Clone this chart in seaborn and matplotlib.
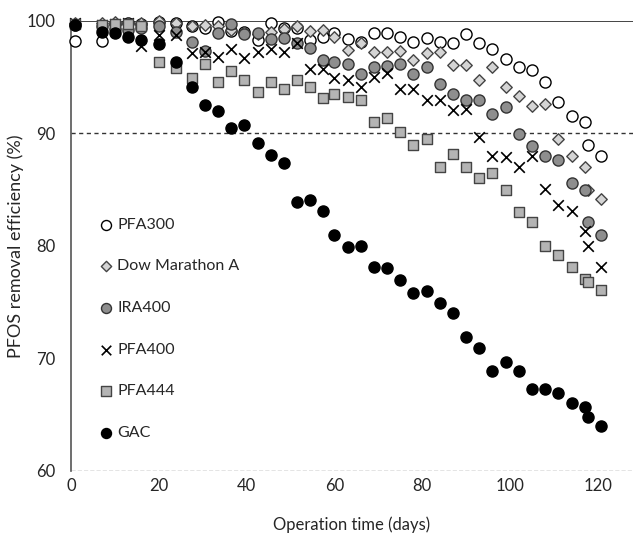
import numpy as np
import pandas as pd
import seaborn as sns
import matplotlib.pyplot as plt

sns.set_style('white')
plt.rcParams['font.family'] = ['Lato', 'DejaVu Sans']

# sampling days (operation time)
days = [1, 7, 10, 13, 16, 20, 24, 27.5, 30.5, 33.5, 36.5, 39.5, 42.5, 45.5,
        48.5, 51.5, 54.5, 57.5, 60, 63, 66, 69, 72, 75, 78, 81, 84, 87, 90,
        93, 96, 99, 102, 105, 108, 111, 114, 117, 117.7, 120.7]

pfa300 = [98.2, 98.2, 99.7, 99.8, 99.7, 99.9, 99.8, 99.5, 99.4, 99.9, 99.1, 99.0,
          98.3, 99.8, 99.4, 99.4, 98.3, 98.6, 98.9, 98.4, 98.1, 98.9, 98.9, 98.6,
          98.1, 98.5, 98.1, 98.0, 98.8, 98.0, 97.5, 96.6, 95.9, 95.6, 94.6, 92.8,
          91.5, 91.0, 89.0, 88.0]
dow = [99.8, 99.8, 99.9, 99.8, 99.8, 100.0, 99.8, 99.5, 99.6, 99.5, 99.2, 99.0,
       98.8, 99.0, 99.3, 99.5, 99.1, 99.2, 98.6, 97.4, 98.0, 97.2, 97.2, 97.3,
       96.5, 97.1, 97.2, 96.1, 96.1, 94.7, 95.9, 94.1, 93.3, 92.4, 92.6, 89.5,
       88.0, 87.0, 85.0, 84.2]
ira400 = [99.6, 99.5, 99.3, 99.2, 99.4, 99.5, 99.0, 98.1, 97.3, 98.9, 99.7, 98.8,
          98.9, 98.4, 98.5, 98.0, 97.6, 96.5, 96.3, 96.2, 95.3, 95.9, 96.0, 96.2,
          95.3, 95.9, 94.4, 93.5, 93.0, 93.0, 91.7, 92.3, 89.9, 88.9, 88.0, 87.6,
          85.6, 85.0, 82.1, 81.0]
pfa400 = [99.8, 99.6, 99.7, 99.8, 97.8, 98.7, 98.7, 97.1, 97.2, 96.8, 97.5, 96.7,
          97.2, 97.5, 97.2, 98.0, 95.7, 95.7, 94.9, 94.7, 94.1, 95.0, 95.4, 93.9,
          93.9, 93.0, 93.0, 92.1, 92.2, 89.7, 88.0, 87.9, 87.0, 88.0, 85.1, 83.6,
          83.1, 81.3, 80.0, 78.1]
pfa444 = [99.7, 99.6, 99.7, 99.7, 99.5, 96.3, 95.8, 94.9, 96.2, 94.6, 95.5, 94.7,
          93.7, 94.6, 93.9, 94.7, 94.1, 93.1, 93.5, 93.2, 93.0, 91.0, 91.4, 90.1,
          89.0, 89.5, 87.0, 88.2, 87.0, 86.0, 86.5, 85.0, 83.0, 82.1, 80.0, 79.2,
          78.1, 77.1, 76.8, 76.1]
gac = [99.6, 99.0, 98.9, 98.6, 98.3, 97.9, 96.3, 94.1, 92.5, 92.0, 90.5, 90.7,
       89.1, 88.1, 87.4, 83.9, 84.1, 83.1, 81.0, 79.9, 80.0, 78.1, 78.0, 77.0,
       75.8, 76.0, 74.9, 74.0, 71.9, 70.9, 68.9, 69.7, 68.9, 67.3, 67.3, 66.9,
       66.0, 65.7, 64.8, 64.0]

series = {
    'PFA300': pfa300,
    'Dow Marathon A': dow,
    'IRA400': ira400,
    'PFA400': pfa400,
    'PFA444': pfa444,
    'GAC': gac,
}
df = pd.concat([pd.DataFrame({'day': days, 'eff': v, 'resin': k})
                for k, v in series.items()], ignore_index=True)

# marker, size, face, edge
styles = {
    'PFA300': ('o', 64, 'white', 'black'),
    'Dow Marathon A': ('D', 34, '#d4d4d4', '#444444'),
    'IRA400': ('o', 64, '#8e8e8e', '#333333'),
    'PFA400': ('x', 58, 'black', 'black'),
    'PFA444': ('s', 62, '#b4b4b4', '#444444'),
    'GAC': ('o', 64, 'black', 'black'),
}

fig = plt.figure(figsize=(6.33, 5.34), dpi=100)
ax = fig.add_axes([0.112, 0.118, 0.888, 0.843])

for name in series:
    m, s, fc, ec = styles[name]
    sub = df[df['resin'] == name]
    if m == 'x':
        sns.scatterplot(data=sub, x='day', y='eff', marker=m, s=s, color=fc,
                        linewidth=1.2, label=name, ax=ax, clip_on=False, zorder=3)
    else:
        sns.scatterplot(data=sub, x='day', y='eff', marker=m, s=s, color=fc,
                        edgecolor=ec, linewidth=1.0, label=name, ax=ax,
                        clip_on=False, zorder=3)

ax.set_xlim(0, 128)
ax.set_ylim(60, 100)
ax.set_xticks(range(0, 121, 20))
ax.set_yticks(range(60, 101, 10))
for sp in ['right', 'bottom', 'top']:
    ax.spines[sp].set_visible(False)
ax.spines['left'].set_color('#555555')
ax.spines['left'].set_linewidth(1.2)
ax.axhline(100, color='#444444', lw=1.4, zorder=1)
ax.axhline(90, color='#333333', lw=1.0, ls=(0, (3, 2.5)), zorder=1)
ax.axhline(60, color='#777777', lw=1.0, ls=(0, (3, 1.5)), zorder=1)
ax.tick_params(axis='both', labelsize=12, length=0)
ax.tick_params(axis='x', pad=5)
ax.tick_params(axis='y', pad=11)

ax.set_xlabel('Operation time (days)', fontsize=12, labelpad=16)
ax.set_ylabel('PFOS removal efficiency (%)', fontsize=13, labelpad=2)

ax.legend(loc='upper left', bbox_to_anchor=(0.043, 0.577), frameon=False,
          fontsize=11.5, labelspacing=1.72, handlelength=0.6, markerscale=0.9,
          handletextpad=0.4, borderaxespad=0)

fig.savefig('out.png', dpi=100)
